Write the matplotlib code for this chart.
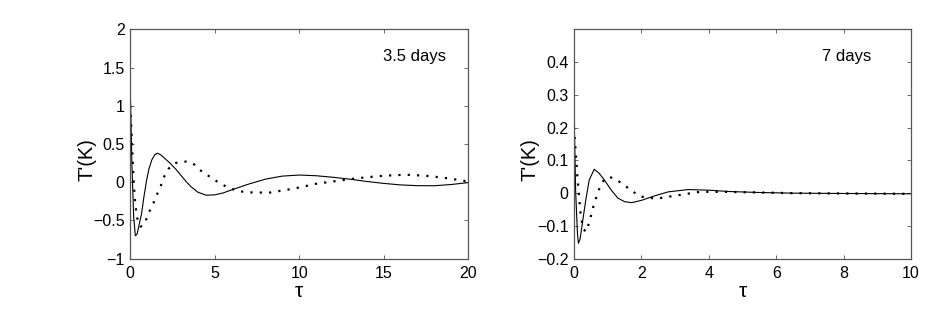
import matplotlib
matplotlib.use("Agg")
import matplotlib.pyplot as plt

plt.rcParams["font.family"] = ["Liberation Sans", "DejaVu Sans"]
plt.rcParams["font.size"] = 11.5

# ---- left panel : 3.5 days ----
tau_a_solid = [0, 0.1, 0.2, 0.3, 0.4, 0.5, 0.67, 0.8, 0.97, 1.1, 1.27, 1.45, 1.6, 1.8,
               2.0, 2.35, 2.7, 3.0, 3.3, 3.6, 4.0, 4.5, 5.0, 5.5, 6.0, 7.0, 8.0, 9.0,
               10.0, 11.0, 12.0, 13.0, 14.0, 15.0, 16.0, 17.0, 18.0, 19.0, 20.0]
T_a_solid = [1.2, 0.2, -0.45, -0.70, -0.68, -0.58, -0.41, -0.2, 0.03, 0.17, 0.29, 0.36, 0.38, 0.36,
             0.32, 0.25, 0.17, 0.09, 0.01, -0.06, -0.13, -0.17, -0.165, -0.14, -0.1, -0.025, 0.04, 0.08,
             0.094, 0.085, 0.065, 0.04, 0.01, -0.015, -0.035, -0.045, -0.046, -0.03, -0.005]

tau_a_dot = [0, 0.1, 0.2, 0.3, 0.45, 0.6, 0.75, 0.87, 1.07, 1.36, 1.6, 1.82, 2.0, 2.2, 2.45,
             2.65, 2.94, 3.3, 3.7, 4.12, 4.72, 5.3, 5.9, 6.5, 7.28, 8.27, 9.25, 10.2, 11.0,
             12.0, 13.0, 14.0, 15.0, 16.0, 16.5, 17.5, 18.5, 19.3, 20.0]
T_a_dot = [1.0, 0.5, 0.0, -0.3, -0.52, -0.58, -0.57, -0.53, -0.41, -0.28, -0.15, -0.04, 0.07, 0.16, 0.22,
           0.25, 0.265, 0.27, 0.25, 0.16, 0.07, -0.015, -0.08, -0.12, -0.135, -0.135, -0.1, -0.06, -0.02,
           0.01, 0.04, 0.065, 0.085, 0.095, 0.096, 0.085, 0.06, 0.035, 0.01]

# ---- right panel : 7 days ----
tau_b_solid = [0, 0.05, 0.1, 0.13, 0.18, 0.25, 0.35, 0.45, 0.6, 0.75, 0.9, 1.1, 1.3, 1.5,
               1.71, 2.0, 2.4, 2.8, 3.39, 4.0, 4.6, 5.5, 6.5, 8.0, 10.0]
T_b_solid = [0.25, 0.0, -0.12, -0.153, -0.14, -0.09, -0.02, 0.04, 0.073, 0.06, 0.04, 0.01, -0.015, -0.026,
             -0.029, -0.022, -0.008, 0.004, 0.011, 0.009, 0.005, 0.002, 0.0, -0.001, -0.002]

tau_b_dot = [0, 0.1, 0.2, 0.28, 0.36, 0.47, 0.57, 0.67, 0.77, 0.91, 1.07, 1.3, 1.56, 1.95,
             2.45, 3.04, 3.74, 4.5, 5.5, 6.5, 8.0, 10.0]
T_b_dot = [0.2, 0.05, -0.07, -0.11, -0.118, -0.082, -0.042, -0.01, 0.019, 0.044, 0.049, 0.038, 0.019, -0.01,
           -0.017, -0.007, 0.004, 0.004, 0.002, 0.0, -0.001, -0.002]

fig = plt.figure(figsize=(9.26, 3.09), dpi=100)
ax1 = fig.add_axes([0.1407, 0.1628, 0.3647, 0.7424])
ax2 = fig.add_axes([0.6199, 0.1628, 0.3639, 0.7424])

panels = [
    (ax1, tau_a_solid, T_a_solid, tau_a_dot, T_a_dot, (0, 20), (-1, 2),
     [0, 5, 10, 15, 20], [-1, -0.5, 0, 0.5, 1, 1.5, 2], "3.5 days", 0.747, -0.099),
    (ax2, tau_b_solid, T_b_solid, tau_b_dot, T_b_dot, (0, 10), (-0.2, 0.5),
     [0, 2, 4, 6, 8, 10], [-0.2, -0.1, 0, 0.1, 0.2, 0.3, 0.4], "7 days", 0.736, -0.101),
]

for ax, xs, ys, xd, yd, xlim, ylim, xt, yt, label, lx, ylx in panels:
    ax.plot(xs, ys, color="black", lw=0.8)
    ax.plot(xd, yd, color="black", lw=1.6, linestyle=(0, (1.0, 3.2)), dash_capstyle="butt")
    ax.set_xlim(*xlim)
    ax.set_ylim(*ylim)
    ax.set_xticks(xt)
    ax.set_yticks(yt)
    ax.set_yticklabels([f"{v:g}".replace("-", "\u2212") for v in yt])
    ax.tick_params(direction="in", length=3, width=0.6, top=True, right=True,
                   colors="#555555", labelcolor="black", labelsize=11.5, pad=4)
    ax.tick_params(axis="x", pad=5)
    for sp in ax.spines.values():
        sp.set_color("#555555")
        sp.set_linewidth(0.9)
    ax.set_xlabel("\u03c4", fontsize=15)
    ax.xaxis.set_label_coords(0.5, -0.10)
    ax.set_ylabel("T'(K)", fontsize=14.5)
    ax.yaxis.set_label_coords(ylx, 0.43)
    ax.text(lx, 0.88, label, transform=ax.transAxes, fontsize=12, va="center")

fig.savefig("out.png", dpi=100)
